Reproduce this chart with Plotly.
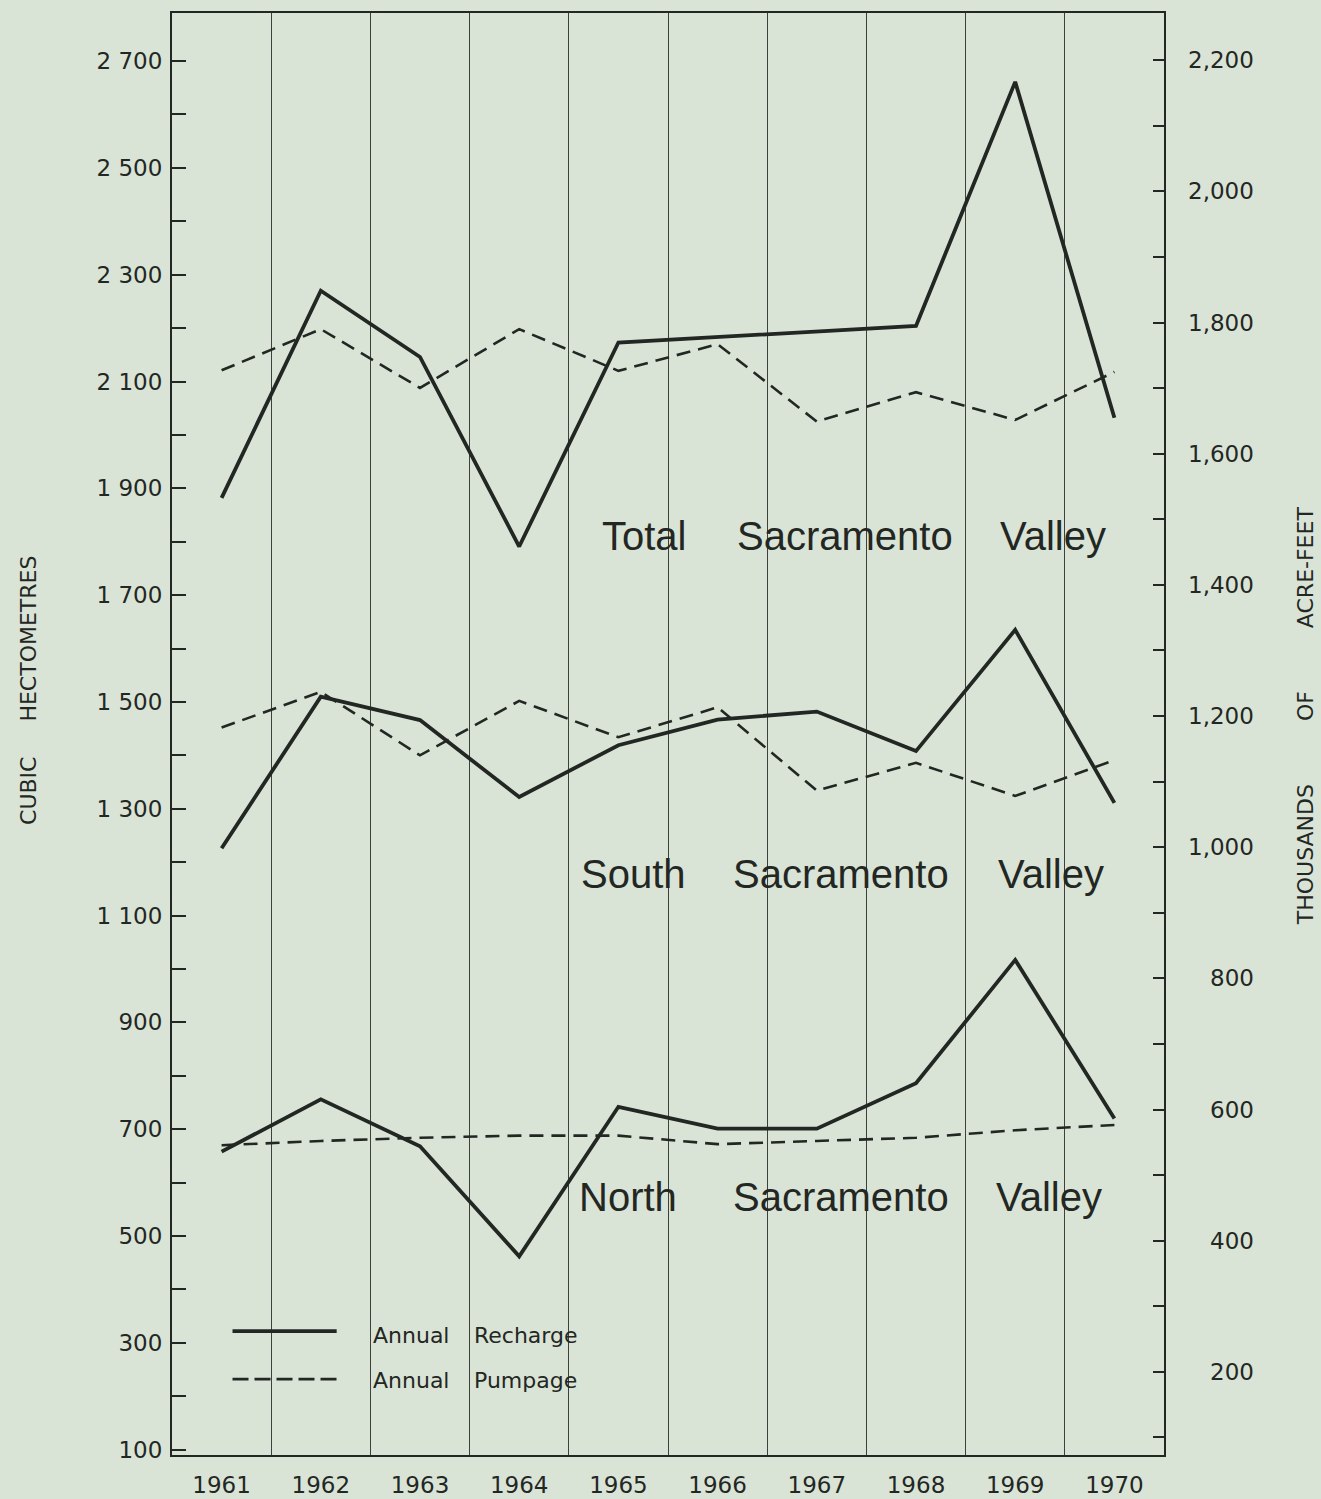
import plotly.graph_objects as go

# Annual groundwater recharge and pumpage, Sacramento Valley, in cubic hectometres
years = [1961, 1962, 1963, 1964, 1965, 1966, 1967, 1968, 1969, 1970]

total_recharge = [1882, 2270, 2146, 1791, 2173, 2183, 2193, 2204, 2661, 2032]
total_pumpage = [2121, 2198, 2088, 2198, 2120, 2170, 2025, 2080, 2028, 2118]

south_recharge = [1226, 1510, 1466, 1322, 1419, 1467, 1482, 1408, 1635, 1311]
south_pumpage = [1452, 1519, 1400, 1502, 1434, 1490, 1334, 1386, 1324, 1391]

north_recharge = [658, 756, 668, 462, 742, 701, 701, 786, 1017, 720]
north_pumpage = [670, 678, 684, 688, 688, 672, 678, 684, 698, 708]

# Left axis: cubic hectometres
hm3_ticks = [100, 300, 500, 700, 900, 1100, 1300, 1500, 1700, 1900, 2100, 2300, 2500, 2700]
hm3_labels = ["100", "300", "500", "700", "900", "1 100", "1 300", "1 500",
              "1 700", "1 900", "2 100", "2 300", "2 500", "2 700"]

# Right axis: thousands of acre-feet
kaf_ticks = [200, 400, 600, 800, 1000, 1200, 1400, 1600, 1800, 2000, 2200]
kaf_labels = ["200", "400", "600", "800", "1,000", "1,200", "1,400", "1,600",
              "1,800", "2,000", "2,200"]

HM3_PER_KAF = 1.228
Y_RANGE = [90, 2790]

BG = "#dae4d6"
INK = "#232723"
GRID = "#3c413c"
TICK_FONT = "DejaVu Sans"
LABEL_FONT = "Liberation Sans"

fig = go.Figure()

series = [
    (total_recharge, "solid", 3.8),
    (total_pumpage, "14px,8px", 2.6),
    (south_recharge, "solid", 3.8),
    (south_pumpage, "14px,8px", 2.6),
    (north_recharge, "solid", 3.8),
    (north_pumpage, "14px,8px", 2.6),
]
for values, dash, width in series:
    fig.add_trace(go.Scatter(
        x=years, y=values, mode="lines",
        line=dict(color=INK, width=width, dash=dash),
        showlegend=False, hoverinfo="skip",
    ))

# keeps the secondary (acre-feet) axis active
fig.add_trace(go.Scatter(x=[None], y=[None], yaxis="y2", showlegend=False,
                         hoverinfo="skip"))

annotations = []

# region labels
region_words = [
    (1810, [("Total", 1964.81), ("Sacramento", 1966.18), ("Valley", 1968.83)]),
    (1178, [("South", 1964.60), ("Sacramento", 1966.14), ("Valley", 1968.81)]),
    (573, [("North", 1964.58), ("Sacramento", 1966.14), ("Valley", 1968.79)]),
]
for yv, words in region_words:
    for word, xv in words:
        annotations.append(dict(
            x=xv, y=yv, xref="x", yref="y", text=word, showarrow=False,
            xanchor="left", yanchor="middle",
            font=dict(family=LABEL_FONT, size=40, color=INK),
        ))

# right-hand tick labels, right aligned
for v, lab in zip(kaf_ticks, kaf_labels):
    annotations.append(dict(
        x=1.0927, y=v, xref="paper", yref="y2", text=lab, showarrow=False,
        xanchor="right", yanchor="middle",
        font=dict(family=TICK_FONT, size=23, color=INK),
    ))

# axis titles
annotations.append(dict(
    x=-0.1452, y=0.5305, xref="paper", yref="paper",
    text="CUBIC\u00a0\u00a0\u00a0\u00a0\u00a0HECTOMETRES", textangle=-90, showarrow=False,
    xanchor="center", yanchor="middle",
    font=dict(family=TICK_FONT, size=22, color=INK),
))
annotations.append(dict(
    x=1.1421, y=0.513, xref="paper", yref="paper",
    text="THOUSANDS\u00a0\u00a0\u00a0\u00a0\u00a0\u00a0\u00a0\u00a0\u00a0OF\u00a0\u00a0\u00a0\u00a0\u00a0\u00a0\u00a0\u00a0\u00a0ACRE-FEET",
    textangle=-90, showarrow=False,
    xanchor="center", yanchor="middle",
    font=dict(family=TICK_FONT, size=22, color=INK),
))

# key
shapes = [
    dict(type="line", xref="x", yref="y", x0=1961.11, x1=1962.16, y0=322, y1=322,
         line=dict(color=INK, width=3.8)),
    dict(type="line", xref="x", yref="y", x0=1961.11, x1=1962.16, y0=232, y1=232,
         line=dict(color=INK, width=2.8, dash="16px,6px")),
]
for yv, kind in [(314, "Recharge"), (230, "Pumpage")]:
    annotations.append(dict(x=1962.51, y=yv, xref="x", yref="y", text="Annual",
                            showarrow=False, xanchor="left", yanchor="middle",
                            font=dict(family=TICK_FONT, size=22, color=INK)))
    annotations.append(dict(x=1963.52, y=yv, xref="x", yref="y", text=kind,
                            showarrow=False, xanchor="left", yanchor="middle",
                            font=dict(family=TICK_FONT, size=22, color=INK)))

fig.update_layout(
    width=1321, height=1499, autosize=False,
    margin=dict(l=172, r=157, t=13, b=44, pad=0, autoexpand=False),
    paper_bgcolor=BG, plot_bgcolor=BG,
    annotations=annotations, shapes=shapes,
    xaxis=dict(
        range=[1960.5, 1970.5], tickmode="array", tickvals=years, automargin=False,
        ticktext=[str(y) for y in years], ticks="", showgrid=False, zeroline=False,
        showline=True, mirror=True, linecolor=INK, linewidth=2,
        tickfont=dict(family=TICK_FONT, size=23, color=INK),
        ticklabelstandoff=8,
        minor=dict(tickmode="linear", tick0=1960.5, dtick=1, showgrid=True,
                   gridcolor=GRID, gridwidth=1.2, ticks=""),
    ),
    yaxis=dict(
        range=Y_RANGE, tickmode="array", tickvals=hm3_ticks, ticktext=hm3_labels,
        automargin=False,
        ticks="inside", ticklen=14, tickwidth=2, tickcolor=INK,
        showgrid=False, zeroline=False, showline=True, mirror=True,
        linecolor=INK, linewidth=2,
        tickfont=dict(family=TICK_FONT, size=23, color=INK),
        ticklabelstandoff=3,
        minor=dict(tickmode="linear", tick0=0, dtick=100, ticks="inside",
                   ticklen=14, tickwidth=2, tickcolor=INK, showgrid=False),
    ),
    yaxis2=dict(
        overlaying="y", side="right", automargin=False,
        range=[Y_RANGE[0] / HM3_PER_KAF, Y_RANGE[1] / HM3_PER_KAF],
        tickmode="array", tickvals=kaf_ticks, showticklabels=False,
        ticks="inside", ticklen=11, tickwidth=2, tickcolor=INK,
        showgrid=False, zeroline=False, showline=True, linecolor=INK, linewidth=2,
        minor=dict(tickmode="linear", tick0=0, dtick=100, ticks="inside",
                   ticklen=11, tickwidth=2, tickcolor=INK, showgrid=False),
    ),
)

fig.write_html("out.html")
